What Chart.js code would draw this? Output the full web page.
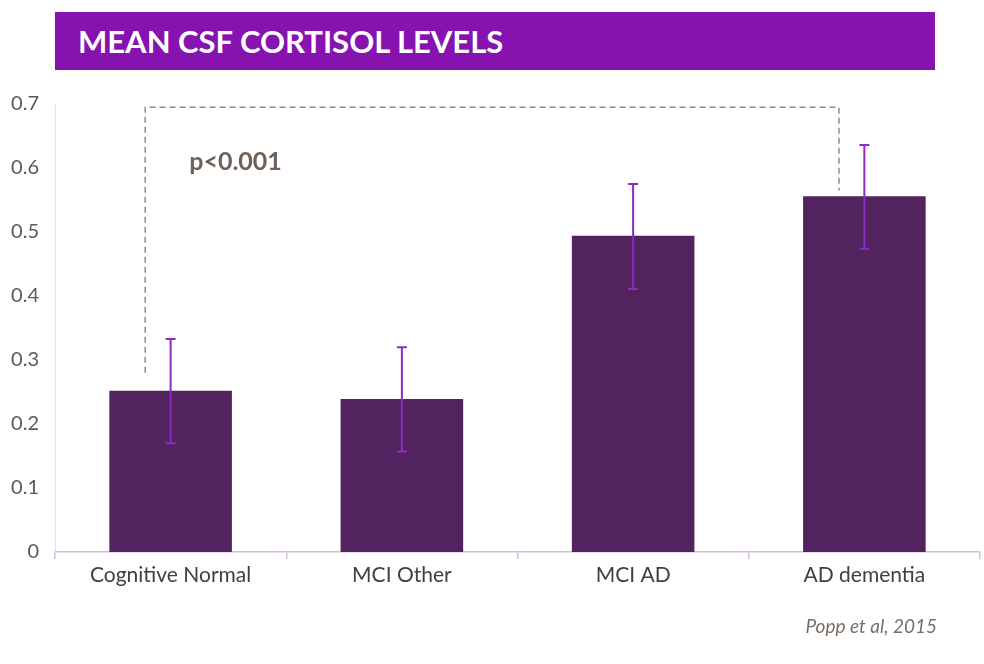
<!DOCTYPE html>
<html><head><meta charset="utf-8">
<script src="https://cdn.jsdelivr.net/npm/chart.js@4"></script>
<style>
body{margin:0;width:984px;height:664px;background:#fff;overflow:hidden;position:relative;font-family:Lato,"Open Sans",sans-serif}
#t{position:absolute;left:55px;top:12px;width:880px;height:58px;background:#8612B0;color:#fff;font:bold 31px Lato,"Open Sans",sans-serif;line-height:58px;padding-left:23px;box-sizing:border-box}
#c{position:absolute;left:0;top:0}
#cit{position:absolute;right:47px;top:614px;font:italic 19px Lato,sans-serif;color:#7a6e66}
</style></head><body>
<canvas id="c" width="984" height="664"></canvas>
<div id="t">MEAN CSF CORTISOL LEVELS</div>
<div id="cit">Popp et al, 2015</div>
<script>
const categories=["Cognitive Normal","MCI Other","MCI AD","AD dementia"];
const means=[0.252,0.239,0.494,0.556];
const errLow=[0.170,0.157,0.411,0.474];
const errHigh=[0.333,0.320,0.575,0.636];
const yTicks=[0,0.1,0.2,0.3,0.4,0.5,0.6,0.7];
const pLabel="p<0.001";
const bracket={from:0,to:3,top:0.695,leftBottom:0.28,rightBottom:0.565};

const errPlugin={id:'err',afterDatasetsDraw(ch){
 const c=ch.ctx,x=ch.scales.x,y=ch.scales.y;
 c.save();c.strokeStyle='#8A2BC2';c.lineWidth=2;
 means.forEach((m,i)=>{const px=x.getPixelForValue(i);
  const a=y.getPixelForValue(errHigh[i]),b=y.getPixelForValue(errLow[i]);
  c.beginPath();c.moveTo(px,a);c.lineTo(px,b);
  c.moveTo(px-5,a);c.lineTo(px+5,a);c.moveTo(px-5,b);c.lineTo(px+5,b);c.stroke();});
 const cw=x.getPixelForValue(1)-x.getPixelForValue(0);
 const x1=x.getPixelForValue(bracket.from)-0.11*cw,x2=x.getPixelForValue(bracket.to)-0.11*cw;
 c.strokeStyle='#8c8c8c';c.lineWidth=1.5;c.setLineDash([6,4]);
 c.beginPath();c.moveTo(x1,y.getPixelForValue(bracket.leftBottom));c.lineTo(x1,y.getPixelForValue(bracket.top));
 c.lineTo(x2,y.getPixelForValue(bracket.top));c.lineTo(x2,y.getPixelForValue(bracket.rightBottom));c.stroke();
 c.setLineDash([]);c.fillStyle='#6E6158';c.font='bold 25px Lato,sans-serif';c.textBaseline='middle';
 c.fillText(pLabel,x1+44,y.getPixelForValue(0.61));
 c.restore();}};

new Chart(document.getElementById('c'),{type:'bar',
 data:{labels:categories,datasets:[{data:means,backgroundColor:'#52235E',barPercentage:0.53,categoryPercentage:1}]},
 options:{responsive:false,animation:false,events:[],
  layout:{padding:{top:104,right:4,left:0,bottom:0}},
  plugins:{legend:{display:false},tooltip:{enabled:false}},
  scales:{
   x:{offset:true,afterFit(s){s.height=112;},
     grid:{display:true,drawOnChartArea:false,offset:true,tickLength:7,color:'#D8B6E6',lineWidth:1.5},
     border:{color:'#D8B6E6',width:1.5},
     ticks:{color:'#404040',font:{size:21,family:'Lato'},padding:4}},
   y:{min:0,max:0.7,afterFit(s){s.width=55;},
     afterBuildTicks(s){s.ticks=yTicks.map(v=>({value:v}));},
     grid:{display:false},border:{display:true,color:'#EAD9F0'},
     ticks:{color:'#595959',font:{size:20,family:'Lato'},padding:8,callback:v=>String(v)}}
  }},plugins:[errPlugin]});
</script></body></html>
